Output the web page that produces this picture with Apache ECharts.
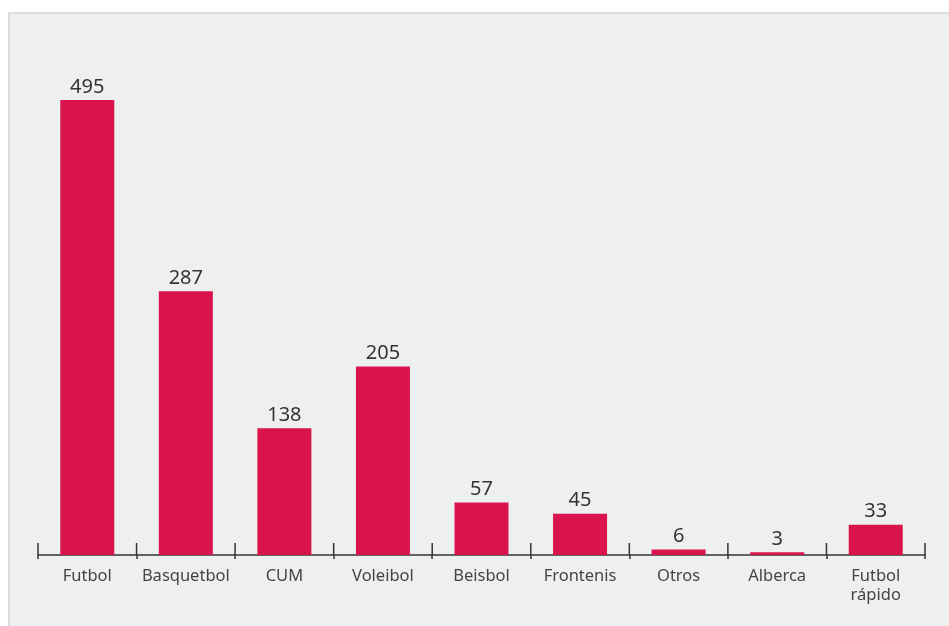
<!DOCTYPE html>
<html>
<head>
<meta charset="utf-8">
<script src="https://cdn.jsdelivr.net/npm/echarts@6/dist/echarts.min.js"></script>
<style>
  html, body { margin: 0; padding: 0; background: #ffffff; }
  #chart { width: 949px; height: 626px; }
</style>
</head>
<body>
<div id="chart"></div>
<script>
const categories = ['Futbol', 'Basquetbol', 'CUM', 'Voleibol', 'Beisbol', 'Frontenis', 'Otros', 'Alberca', 'Futbol\nrápido'];
const values = [495, 287, 138, 205, 57, 45, 6, 3, 33];

const chart = echarts.init(document.getElementById('chart'));

// upward part of the boundary ticks (the axis only draws them downward)
function renderTick(params, api) {
    const idx = api.value(0);
    const p = api.coord([idx, 0]);
    const band = api.size([1, 0])[0];
    const style = { stroke: '#333333', lineWidth: 1.5 };
    const lines = [{
        type: 'line',
        shape: { x1: p[0] - band / 2, y1: p[1], x2: p[0] - band / 2, y2: p[1] - 12 },
        style: style
    }];
    if (idx === categories.length - 1) {
        lines.push({
            type: 'line',
            shape: { x1: p[0] + band / 2, y1: p[1], x2: p[0] + band / 2, y2: p[1] - 12 },
            style: style
        });
    }
    return { type: 'group', children: lines };
}

const option = {
    animation: false,
    textStyle: { fontFamily: 'Noto Sans' },
    graphic: [{
        type: 'rect',
        z: -10,
        shape: { x: 9, y: 13, width: 960, height: 640 },
        style: { fill: '#eef0ef', stroke: '#dcdddc', lineWidth: 2 }
    }],
    grid: { left: 38, right: 24, top: 100, bottom: 71 },
    xAxis: {
        type: 'category',
        data: categories,
        axisLine: { show: true, lineStyle: { color: '#333333', width: 1.5 } },
        axisTick: { show: true, alignWithLabel: false, interval: 0, length: 4, lineStyle: { color: '#333333', width: 1.5 } },
        axisLabel: { color: '#444444', fontSize: 16.5, margin: 12, lineHeight: 19, interval: 0 }
    },
    yAxis: {
        type: 'value',
        min: 0,
        max: 495,
        show: false
    },
    series: [{
        type: 'bar',
        data: values,
        barWidth: 54,
        itemStyle: { color: '#d9134b' },
        label: {
            show: true,
            position: 'top',
            distance: 3,
            color: '#333333',
            fontSize: 20
        }
    }, {
        type: 'custom',
        renderItem: renderTick,
        data: categories.map((c, i) => [i, 0]),
        z: 5,
        silent: true
    }]
};

chart.setOption(option);
</script>
</body>
</html>
